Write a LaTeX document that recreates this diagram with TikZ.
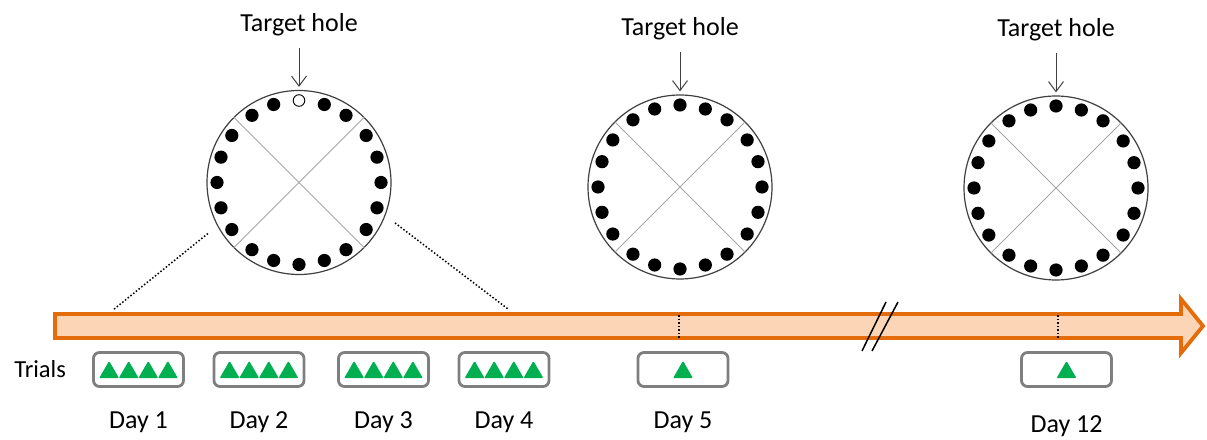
\documentclass[tikz,border=0pt]{standalone}
\usepackage{fontspec}
\setmainfont{Carlito}
\usetikzlibrary{arrows.meta,positioning,shapes.geometric,calc}
\definecolor{tlorange}{HTML}{E46C0A}
\definecolor{tlpeach}{HTML}{FBD5B5}
\definecolor{boxgray}{HTML}{7F7F7F}
\definecolor{trialgreen}{HTML}{00B050}
\definecolor{plategray}{HTML}{404040}
\definecolor{dividergray}{HTML}{A6A6A6}
\tikzset{
  plate/.style={
    circle, draw=plategray, line width=1.2pt,
    minimum size=184pt, inner sep=0pt
  },
  divider/.style={draw=dividergray, line width=0.8pt},
  hole/.style={fill=black},
  openhole/.style={draw=black, fill=white, line width=0.9pt},
  pointer/.style={
    -{Straight Barb[length=10pt,width=15pt]}, line width=1pt, color=plategray
  },
  labeltext/.style={font=\fontsize{26}{30}\selectfont, inner sep=2pt},
  trialbox/.style={
    rectangle, draw=boxgray, line width=2.8pt, rounded corners=6pt,
    minimum width=90pt, minimum height=34pt, inner sep=0pt
  },
  trial/.style={
    regular polygon, regular polygon sides=3, fill=trialgreen,
    minimum size=23pt, inner sep=0pt, outer sep=0pt, rounded corners=1pt
  },
  timeline/.style={draw=tlorange, fill=tlpeach, line width=3.8pt, line join=miter},
  zoomline/.style={dotted, line width=1.5pt},
  daytick/.style={dotted, line width=1.5pt},
  breakmark/.style={line width=1.5pt},
}

\begin{document}
\begin{tikzpicture}[x=1pt, y=1pt]
  \useasboundingbox (0,0) rectangle (1207,439);

  % Time axis
  \draw[timeline] (55,101) -- (1181,101) -- (1181,86) -- (1203,113)
    -- (1181,140) -- (1181,125) -- (55,125) -- cycle;
  \draw[daytick] (679,101) -- (679,125);
  \draw[daytick] (1058,101) -- (1058,125);
  \draw[breakmark] (862,88) -- (886,137);
  \draw[breakmark] (872,88) -- (898,137);

  % Plates
  \node[plate] (plate1) at (299,256.5) {};
  \node[plate] (plate2) at (680,252) {};
  \node[plate] (plate3) at (1056,251) {};
  \foreach \p in {1,2,3} {
    \node[labeltext, above=52pt of plate\p] (target\p) {Target hole};
    \draw[pointer, shorten <=10pt, shorten >=3pt] (target\p.south) -- (plate\p.north);
    \draw[divider] (plate\p.north west) -- (plate\p.south east);
    \draw[divider] (plate\p.north east) -- (plate\p.south west);
    \foreach \a in {55,72,108,125,145,162,180,198,215,235,252,270,288,305,325,342,0,18,35}
      \fill[hole] (plate\p.center) ++(\a:82pt) circle (6.6pt);
  }
  \draw[openhole] (plate1.center) ++(90:82pt) circle (5.8pt);
  \fill[hole] (plate2.center) ++(90:82pt) circle (6.6pt);
  \fill[hole] (plate3.center) ++(90:82pt) circle (6.6pt);

  % Zoom onto days 1-4
  \coordinate (zoomL) at (113,129);
  \coordinate (zoomR) at (508,130);
  \draw[zoomline, shorten <=12pt] (plate1.208) -- (zoomL);
  \draw[zoomline, shorten <=12pt] (plate1.339) -- (zoomR);

  % Trials per day
  \foreach \d/\x/\n/\g in {1/138.5/4/22, 2/259/4/22, 3/383.5/4/22, 4/504/4/22,
                           5/683/1/22, 12/1066.5/1/26} {
    \node[trialbox] (box\d) at (\x,69.5) {};
    \node[labeltext, below=\g pt of box\d] (day\d) {Day \d};
    \foreach \k in {1,...,\n}
      \node[trial] at ([xshift={(\k-(\n+1)/2)*19.6pt}, yshift=-2.9pt]box\d.center) {};
  }
  \node[labeltext, font=\fontsize{24.5}{28}\selectfont, left=24pt of box1] (trials) {Trials};
\end{tikzpicture}
\end{document}
